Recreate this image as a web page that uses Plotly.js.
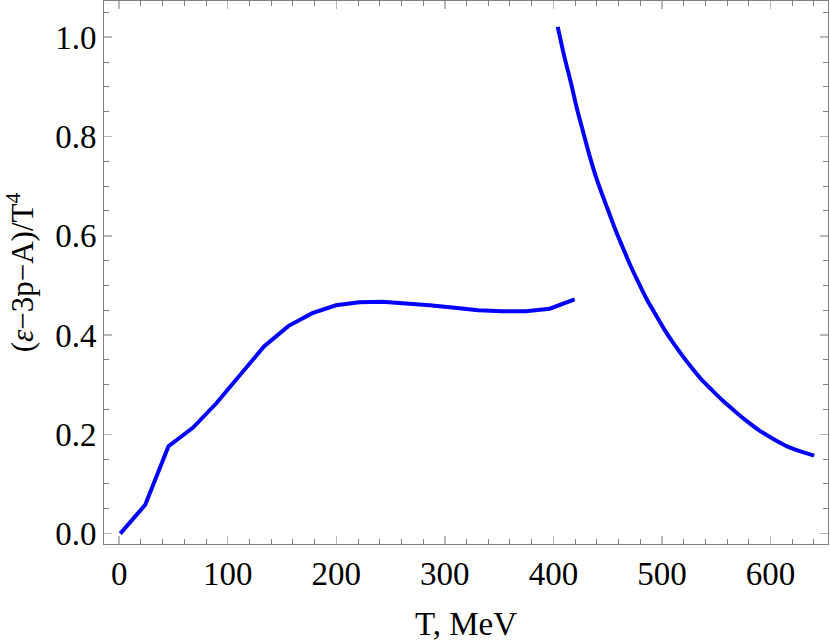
<!DOCTYPE html>
<html>
<head>
<meta charset="utf-8">
<script src="https://cdn.plot.ly/plotly-3.0.1.min.js"></script>
<style>html,body{margin:0;padding:0;background:#fff;}#chart{width:830px;height:642px;}</style>
</head>
<body>
<div id="chart"></div>
<script>
// Low-temperature branch
const tLow = [1, 24, 45.4, 67.8, 89.3, 110.7, 133.4, 155.8, 177.9, 199.7, 221.2, 242.6, 264, 286, 309, 330.7, 353, 374.5, 396.6, 419.6];
const yLow = [0.0, 0.058, 0.176, 0.213, 0.262, 0.319, 0.377, 0.418, 0.444, 0.460, 0.466, 0.467, 0.464, 0.460, 0.455, 0.450, 0.448, 0.448, 0.453, 0.472];
// High-temperature branch
const tHigh = [404, 410, 416.3, 421.5, 427, 433, 439.3, 445.5, 451.5, 457.5, 463.8, 471, 479, 486.5, 494.5, 502, 509.8, 519, 528.2, 537, 546.6, 557, 568, 578.5, 589.6, 601.5, 614, 627, 640.2];
const yHigh = [1.021, 0.962, 0.907, 0.858, 0.8125, 0.764, 0.718, 0.680, 0.645, 0.610, 0.577, 0.540, 0.503, 0.470, 0.440, 0.412, 0.386, 0.358, 0.332, 0.309, 0.288, 0.266, 0.245, 0.226, 0.208, 0.192, 0.177, 0.166, 0.157];

const xTickVals = [0, 100, 200, 300, 400, 500, 600];
const yTickVals = [0.0, 0.2, 0.4, 0.6, 0.8, 1.0];
const yTickText = ['0.0', '0.2', '0.4', '0.6', '0.8', '1.0'];

const fontFam = '"Liberation Serif", "Times New Roman", serif';
const blue = '#0000ff';

const traces = [
  {x: tLow, y: yLow, mode: 'lines', line: {color: blue, width: 4}, hoverinfo: 'skip'},
  {x: tHigh, y: yHigh, mode: 'lines', line: {color: blue, width: 4, shape: 'spline', smoothing: 0.8}, hoverinfo: 'skip'}
];

const axisCommon = {
  showgrid: false, zeroline: false,
  showline: true, linecolor: '#808080', linewidth: 1, mirror: 'allticks',
  ticks: 'inside', ticklen: 8, tickwidth: 1.5, tickcolor: '#b8b8b8',
  tickfont: {family: fontFam, size: 33, color: '#000'}
};

const layout = {
  width: 830, height: 642,
  margin: {l: 104, r: 2, t: 1, b: 98},
  paper_bgcolor: '#fff', plot_bgcolor: '#fff',
  showlegend: false,
  xaxis: Object.assign({}, axisCommon, {
    range: [-14, 653],
    tickmode: 'array', tickvals: xTickVals, ticktext: xTickVals.map(String),
    minor: {dtick: 20, tick0: 0, ticks: 'inside', ticklen: 5, tickwidth: 1, tickcolor: '#808080'},
    title: {text: 'T, MeV', font: {family: fontFam, size: 33, color: '#000'}, standoff: 25}
  }),
  yaxis: Object.assign({}, axisCommon, {
    range: [-0.021, 1.073],
    tickmode: 'array', tickvals: yTickVals, ticktext: yTickText,
    minor: {dtick: 0.05, tick0: 0, ticks: 'inside', ticklen: 5, tickwidth: 1, tickcolor: '#808080'},
    title: {text: '(<i>ε</i>−3p−A)/T<sup>4</sup>', font: {family: fontFam, size: 31, color: '#000'}, standoff: 12}
  })
};

Plotly.newPlot('chart', traces, layout, {staticPlot: true, displayModeBar: false});
</script>
</body>
</html>
